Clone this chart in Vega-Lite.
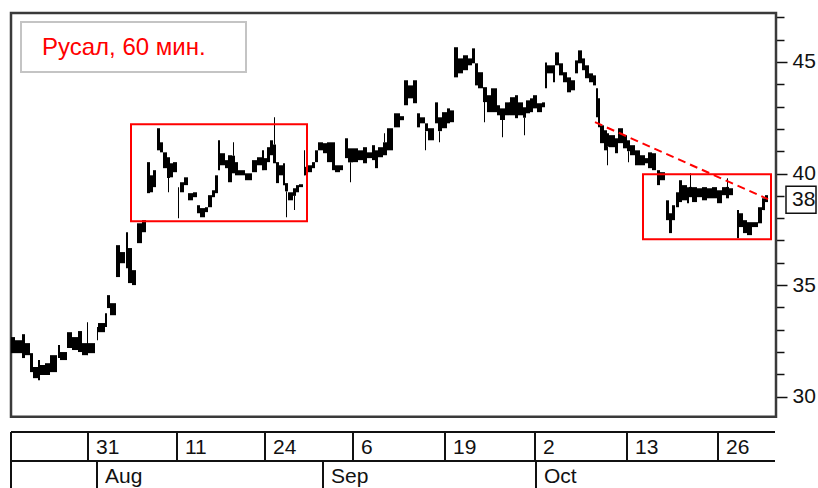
{
  "$schema": "https://vega.github.io/schema/vega-lite/v6.json",
  "width": 765,
  "height": 475,
  "autosize": "none",
  "padding": {"left": 11, "top": 13, "right": 42, "bottom": 0},
  "background": "white",
  "config": {"view": {"stroke": null}, "axis": {"labelOverlap": false}},
  "datasets": {
    "bars": [
      {"s":0,"e":4,"hi":32.67,"lo":31.95},{"s":4,"e":11,"hi":32.53,"lo":31.95},{"s":11,"e":14,"hi":32.80,"lo":31.73},{"s":14,"e":19,"hi":32.40,"lo":31.86},
      {"s":19,"e":22,"hi":31.95,"lo":31.10},{"s":22,"e":27,"hi":31.33,"lo":30.83},{"s":27,"e":29,"hi":31.64,"lo":30.74},{"s":29,"e":34,"hi":31.42,"lo":30.97},
      {"s":34,"e":39,"hi":31.50,"lo":30.97},{"s":39,"e":46,"hi":31.86,"lo":31.10},{"s":47,"e":49,"hi":32.31,"lo":31.73},{"s":49,"e":56,"hi":32.00,"lo":31.64},
      {"s":56,"e":61,"hi":32.89,"lo":32.18},{"s":61,"e":67,"hi":32.67,"lo":32.09},{"s":67,"e":71,"hi":32.94,"lo":32.00},{"s":71,"e":76,"hi":32.40,"lo":31.86},
      {"s":76,"e":77,"hi":33.34,"lo":31.86},{"s":77,"e":84,"hi":32.40,"lo":31.95},{"s":86,"e":87,"hi":33.12,"lo":32.53},{"s":87,"e":94,"hi":33.30,"lo":32.89},
      {"s":94,"e":96,"hi":33.74,"lo":33.12},{"s":96,"e":99,"hi":34.55,"lo":33.97},{"s":99,"e":105,"hi":34.19,"lo":33.65},{"s":105,"e":109,"hi":36.79,"lo":35.36},
      {"s":109,"e":114,"hi":36.48,"lo":35.98},{"s":115,"e":117,"hi":37.37,"lo":35.76},{"s":117,"e":121,"hi":36.66,"lo":35.09},{"s":121,"e":125,"hi":35.67,"lo":35.00},
      {"s":126,"e":131,"hi":37.77,"lo":36.88},{"s":131,"e":135,"hi":37.91,"lo":37.37},{"s":136,"e":139,"hi":40.51,"lo":39.12},{"s":139,"e":142,"hi":39.92,"lo":39.16},
      {"s":142,"e":145,"hi":40.15,"lo":39.39},{"s":146,"e":149,"hi":42.03,"lo":41.04},{"s":149,"e":152,"hi":41.40,"lo":40.95},{"s":152,"e":156,"hi":40.95,"lo":40.24},
      {"s":156,"e":159,"hi":40.73,"lo":39.80},{"s":157,"e":158,"hi":39.80,"lo":39.16},{"s":159,"e":162,"hi":40.46,"lo":39.83},{"s":162,"e":166,"hi":40.51,"lo":40.06},
      {"s":167,"e":168,"hi":39.39,"lo":38.00},{"s":169,"e":173,"hi":39.61,"lo":39.16},{"s":173,"e":177,"hi":39.83,"lo":39.48},{"s":177,"e":182,"hi":39.12,"lo":38.80},
      {"s":182,"e":186,"hi":39.16,"lo":38.94},{"s":186,"e":189,"hi":38.58,"lo":38.22},{"s":189,"e":194,"hi":38.45,"lo":38.04},{"s":194,"e":197,"hi":38.49,"lo":38.27},
      {"s":197,"e":201,"hi":39.03,"lo":38.49},{"s":201,"e":204,"hi":39.25,"lo":38.94},{"s":204,"e":207,"hi":39.92,"lo":39.12},{"s":207,"e":209,"hi":41.49,"lo":40.15},
      {"s":209,"e":214,"hi":40.91,"lo":40.37},{"s":214,"e":217,"hi":40.60,"lo":40.24},{"s":217,"e":221,"hi":40.82,"lo":39.61},{"s":221,"e":224,"hi":40.80,"lo":40.01},
      {"s":222,"e":223,"hi":41.40,"lo":40.80},{"s":224,"e":227,"hi":40.51,"lo":39.92},{"s":227,"e":234,"hi":40.15,"lo":39.92},{"s":234,"e":241,"hi":40.01,"lo":39.70},
      {"s":241,"e":246,"hi":40.60,"lo":40.06},{"s":246,"e":251,"hi":40.73,"lo":40.37},{"s":251,"e":253,"hi":41.04,"lo":40.15},{"s":253,"e":256,"hi":40.69,"lo":40.15},
      {"s":256,"e":259,"hi":41.18,"lo":40.51},{"s":259,"e":262,"hi":41.49,"lo":40.82},{"s":262,"e":265,"hi":41.30,"lo":40.46},{"s":263,"e":264,"hi":42.52,"lo":41.30},
      {"s":265,"e":268,"hi":40.51,"lo":39.57},{"s":268,"e":272,"hi":40.37,"lo":39.92},{"s":272,"e":274,"hi":40.46,"lo":39.48},{"s":274,"e":277,"hi":39.57,"lo":39.20},
      {"s":275,"e":276,"hi":39.20,"lo":38.04},{"s":277,"e":282,"hi":39.16,"lo":38.80},{"s":282,"e":285,"hi":39.34,"lo":39.00},{"s":283,"e":284,"hi":39.00,"lo":38.36},
      {"s":285,"e":288,"hi":39.48,"lo":39.16},{"s":288,"e":292,"hi":39.52,"lo":39.39},{"s":293,"e":294,"hi":41.04,"lo":39.92},{"s":293,"e":296,"hi":40.30,"lo":39.92},
      {"s":296,"e":301,"hi":40.37,"lo":40.06},{"s":301,"e":304,"hi":40.51,"lo":40.24},{"s":304,"e":307,"hi":41.04,"lo":40.51},{"s":307,"e":312,"hi":41.40,"lo":41.04},
      {"s":312,"e":316,"hi":41.36,"lo":40.91},{"s":316,"e":321,"hi":41.40,"lo":40.51},{"s":321,"e":324,"hi":41.40,"lo":40.15},{"s":324,"e":329,"hi":40.37,"lo":40.06},
      {"s":329,"e":332,"hi":40.37,"lo":40.15},{"s":334,"e":337,"hi":41.58,"lo":40.69},{"s":337,"e":342,"hi":41.13,"lo":40.50},{"s":339,"e":340,"hi":40.50,"lo":39.61},
      {"s":342,"e":347,"hi":41.13,"lo":40.51},{"s":347,"e":352,"hi":41.04,"lo":40.60},{"s":352,"e":356,"hi":41.18,"lo":40.46},{"s":356,"e":361,"hi":40.95,"lo":40.69},
      {"s":361,"e":364,"hi":41.27,"lo":40.60},{"s":364,"e":367,"hi":41.04,"lo":40.24},{"s":367,"e":372,"hi":41.18,"lo":40.73},{"s":372,"e":376,"hi":41.40,"lo":40.82},
      {"s":373,"e":374,"hi":41.81,"lo":41.40},{"s":376,"e":382,"hi":42.03,"lo":41.04},{"s":383,"e":389,"hi":42.70,"lo":42.07},{"s":389,"e":393,"hi":42.57,"lo":42.39},
      {"s":393,"e":397,"hi":44.18,"lo":43.06},{"s":397,"e":402,"hi":43.95,"lo":43.37},{"s":402,"e":406,"hi":44.18,"lo":43.15},{"s":406,"e":409,"hi":42.70,"lo":42.07},
      {"s":409,"e":414,"hi":42.52,"lo":42.25},{"s":414,"e":417,"hi":42.25,"lo":41.90},{"s":414,"e":415,"hi":41.90,"lo":41.04},{"s":417,"e":423,"hi":42.03,"lo":41.49},
      {"s":424,"e":427,"hi":43.19,"lo":42.25},{"s":427,"e":431,"hi":42.52,"lo":41.90},{"s":428,"e":429,"hi":41.90,"lo":41.40},{"s":431,"e":436,"hi":42.75,"lo":42.03},
      {"s":436,"e":439,"hi":42.92,"lo":42.25},{"s":439,"e":443,"hi":42.83,"lo":42.30},{"s":443,"e":447,"hi":45.66,"lo":44.31},{"s":447,"e":452,"hi":45.16,"lo":44.49},
      {"s":452,"e":457,"hi":45.30,"lo":44.63},{"s":457,"e":461,"hi":45.16,"lo":44.85},{"s":461,"e":464,"hi":45.61,"lo":44.94},{"s":464,"e":467,"hi":44.94,"lo":43.95},
      {"s":467,"e":472,"hi":44.54,"lo":43.82},{"s":472,"e":476,"hi":43.87,"lo":43.20},{"s":473,"e":474,"hi":43.20,"lo":42.30},{"s":476,"e":480,"hi":43.51,"lo":42.75},
      {"s":480,"e":486,"hi":43.82,"lo":42.75},{"s":486,"e":489,"hi":43.06,"lo":42.61},{"s":489,"e":494,"hi":42.92,"lo":42.40},{"s":491,"e":492,"hi":42.40,"lo":41.63},
      {"s":494,"e":499,"hi":43.19,"lo":42.61},{"s":499,"e":504,"hi":43.42,"lo":42.61},{"s":504,"e":507,"hi":43.51,"lo":42.48},{"s":507,"e":512,"hi":43.19,"lo":42.61},
      {"s":512,"e":515,"hi":42.97,"lo":42.50},{"s":513,"e":514,"hi":42.50,"lo":41.72},{"s":515,"e":519,"hi":43.28,"lo":42.70},{"s":519,"e":522,"hi":43.37,"lo":42.75},
      {"s":522,"e":526,"hi":43.51,"lo":42.92},{"s":526,"e":531,"hi":43.15,"lo":42.75},{"s":531,"e":534,"hi":43.19,"lo":42.97},{"s":534,"e":536,"hi":44.98,"lo":43.82},
      {"s":536,"e":542,"hi":44.85,"lo":44.49},{"s":542,"e":544,"hi":44.85,"lo":44.09},{"s":544,"e":548,"hi":45.43,"lo":44.85},{"s":548,"e":552,"hi":44.94,"lo":44.40},
      {"s":552,"e":556,"hi":44.54,"lo":44.09},{"s":556,"e":560,"hi":44.31,"lo":43.64},{"s":560,"e":564,"hi":44.18,"lo":43.73},{"s":564,"e":567,"hi":45.07,"lo":44.49},
      {"s":567,"e":571,"hi":45.52,"lo":44.94},{"s":571,"e":574,"hi":45.16,"lo":44.63},{"s":574,"e":578,"hi":44.85,"lo":44.27},{"s":578,"e":582,"hi":44.49,"lo":44.09},
      {"s":582,"e":585,"hi":44.40,"lo":43.95},{"s":585,"e":587,"hi":43.82,"lo":42.52},{"s":587,"e":589,"hi":43.37,"lo":42.07},{"s":589,"e":593,"hi":42.16,"lo":41.36},
      {"s":593,"e":596,"hi":41.94,"lo":41.04},{"s":596,"e":598,"hi":41.81,"lo":41.20},{"s":596,"e":597,"hi":41.20,"lo":40.37},{"s":598,"e":604,"hi":41.72,"lo":41.18},
      {"s":604,"e":607,"hi":41.58,"lo":40.91},{"s":607,"e":612,"hi":42.03,"lo":41.36},{"s":612,"e":616,"hi":41.72,"lo":41.13},{"s":616,"e":619,"hi":41.49,"lo":41.00},
      {"s":617,"e":618,"hi":41.00,"lo":40.51},{"s":619,"e":624,"hi":41.27,"lo":40.82},{"s":624,"e":629,"hi":41.04,"lo":40.37},{"s":629,"e":634,"hi":40.82,"lo":40.37},
      {"s":634,"e":637,"hi":40.69,"lo":40.46},{"s":637,"e":641,"hi":40.95,"lo":40.24},{"s":641,"e":645,"hi":40.91,"lo":40.15},{"s":646,"e":649,"hi":40.15,"lo":39.48},
      {"s":649,"e":654,"hi":40.06,"lo":39.70},{"s":655,"e":658,"hi":38.80,"lo":37.91},{"s":658,"e":661,"hi":38.22,"lo":37.33},{"s":661,"e":664,"hi":38.58,"lo":37.91},
      {"s":665,"e":668,"hi":39.16,"lo":38.49},{"s":668,"e":671,"hi":39.70,"lo":38.72},{"s":671,"e":676,"hi":39.48,"lo":38.80},{"s":676,"e":678,"hi":39.39,"lo":38.67},
      {"s":678,"e":681,"hi":39.40,"lo":38.94},{"s":679,"e":680,"hi":40.01,"lo":39.40},{"s":681,"e":686,"hi":39.39,"lo":38.72},{"s":686,"e":691,"hi":39.34,"lo":38.94},
      {"s":691,"e":696,"hi":39.39,"lo":38.80},{"s":696,"e":701,"hi":39.34,"lo":38.89},{"s":701,"e":706,"hi":39.39,"lo":38.89},{"s":706,"e":711,"hi":39.25,"lo":38.67},
      {"s":711,"e":715,"hi":39.39,"lo":39.03},{"s":715,"e":718,"hi":39.40,"lo":38.89},{"s":716,"e":717,"hi":39.79,"lo":39.40},{"s":718,"e":722,"hi":39.34,"lo":39.03},
      {"s":726,"e":728,"hi":38.36,"lo":37.10},{"s":728,"e":732,"hi":38.22,"lo":37.60},{"s":732,"e":736,"hi":37.91,"lo":37.33},{"s":736,"e":741,"hi":37.82,"lo":37.24},
      {"s":741,"e":747,"hi":37.82,"lo":37.60},{"s":747,"e":751,"hi":38.49,"lo":37.77},{"s":751,"e":754,"hi":38.89,"lo":38.36},{"s":754,"e":757,"hi":39.03,"lo":38.72}
    ],
    "days": [
      {"n":77,"label":"31"},{"n":166,"label":"11"},{"n":254,"label":"24"},{"n":342,"label":"6"},
      {"n":434,"label":"19"},{"n":524,"label":"2"},{"n":616,"label":"13"},{"n":707,"label":"26"}
    ],
    "months": [
      {"n":86,"label":"Aug"},{"n":312,"label":"Sep"},{"n":525,"label":"Oct"}
    ]
  },
  "encoding": {
    "x": {"type": "quantitative", "scale": {"domain": [0, 765], "nice": false, "zero": false}, "axis": null},
    "y": {"type": "quantitative", "scale": {"domain": [25.907, 47.194], "nice": false, "zero": false}, "axis": {
      "orient": "right", "values": [30,31,32,33,34,35,36,37,38,39,40,41,42,43,44,45,46,47],
      "labelExpr": "datum.value % 5 === 0 ? datum.label : ''",
      "labelOverlap": false, "labelBound": false, "domain": false, "grid": false, "title": null,
      "tickColor": "#111", "tickWidth": 1.5,
      "tickSize": {"condition": {"test": "datum.value % 5 === 0", "value": 11}, "value": 8},
      "labelFont": "Liberation Sans", "labelFontSize": 21, "labelColor": "#111", "labelPadding": 5
    }}
  },
  "layer": [
    {
      "data": {"values": [{"a": 0}]},
      "mark": {"type": "rect", "fill": "white", "stroke": "#3a3a3a", "strokeWidth": 2.5},
      "encoding": {
        "x": {"datum": 0, "type": "quantitative"},
        "x2": {"datum": 765},
        "y": {"datum": 29.104, "type": "quantitative"},
        "y2": {"datum": 47.194}
      }
    },
    {
      "data": {"values": [{"a": 0}]},
      "mark": {"type": "rect", "fill": "white", "stroke": "#c4c4c4", "strokeWidth": 2},
      "encoding": {
        "x": {"datum": 10, "type": "quantitative"}, "x2": {"datum": 235},
        "y": {"datum": 46.79, "type": "quantitative"}, "y2": {"datum": 44.55}
      }
    },
    {
      "data": {"values": [{"title": "Русал, 60 мин."}]},
      "mark": {"type": "text", "align": "left", "baseline": "alphabetic", "font": "Liberation Sans", "fontSize": 24, "color": "#ff0000"},
      "encoding": {
        "x": {"datum": 31, "type": "quantitative"},
        "y": {"datum": 45.30, "type": "quantitative"},
        "text": {"field": "title"}
      }
    },
    {
      "data": {"name": "bars"},
      "mark": {"type": "rect", "color": "black"},
      "encoding": {
        "x": {"field": "s", "type": "quantitative"},
        "x2": {"field": "e"},
        "y": {"field": "hi", "type": "quantitative"},
        "y2": {"field": "lo"}
      }
    },
    {
      "data": {"values": [{"n": 120, "n2": 296, "top": 42.21, "bottom": 37.86}, {"n": 632, "n2": 760, "top": 39.97, "bottom": 37.06}]},
      "mark": {"type": "rect", "fill": null, "fillOpacity": 0, "stroke": "#ff0000", "strokeWidth": 2},
      "encoding": {
        "x": {"field": "n", "type": "quantitative"},
        "x2": {"field": "n2"},
        "y": {"field": "top", "type": "quantitative"},
        "y2": {"field": "bottom"}
      }
    },
    {
      "data": {"values": [{"n": 584, "p": 42.30}, {"n": 757, "p": 38.85}]},
      "mark": {"type": "line", "color": "#ff0000", "strokeWidth": 2, "strokeDash": [8, 5]},
      "encoding": {
        "x": {"field": "n", "type": "quantitative"},
        "y": {"field": "p", "type": "quantitative"}
      }
    },
    {
      "data": {"values": [{"a": 0}]},
      "mark": {"type": "rect", "fill": "white", "stroke": "#111", "strokeWidth": 1.5, "clip": false},
      "encoding": {
        "x": {"datum": 775, "type": "quantitative"}, "x2": {"datum": 805},
        "y": {"datum": 39.43, "type": "quantitative"}, "y2": {"datum": 38.22}
      }
    },
    {
      "data": {"values": [{"last": "38"}]},
      "mark": {"type": "text", "align": "left", "baseline": "middle", "font": "Liberation Sans", "fontSize": 21, "color": "#111", "clip": false},
      "encoding": {
        "x": {"datum": 781, "type": "quantitative"},
        "y": {"datum": 38.83, "type": "quantitative"},
        "text": {"field": "last"}
      }
    },
    {
      "data": {"values": [{"r": 28.415}, {"r": 27.116}]},
      "mark": {"type": "rule", "color": "#111", "strokeWidth": 2},
      "encoding": {
        "x": {"datum": 0, "type": "quantitative"}, "x2": {"datum": 764},
        "y": {"field": "r", "type": "quantitative"}
      }
    },
    {
      "data": {"values": [{"a": 0}]},
      "mark": {"type": "rule", "color": "#111", "strokeWidth": 2},
      "encoding": {
        "x": {"datum": 0, "type": "quantitative"},
        "y": {"datum": 28.415, "type": "quantitative"}, "y2": {"datum": 25.907}
      }
    },
    {
      "data": {"name": "days"},
      "layer": [
        {
          "mark": {"type": "rule", "color": "#111", "strokeWidth": 2},
          "encoding": {
            "x": {"field": "n", "type": "quantitative"},
            "y": {"datum": 28.415, "type": "quantitative"}, "y2": {"datum": 27.116}
          }
        },
        {
          "mark": {"type": "text", "align": "left", "baseline": "alphabetic", "dx": 8, "font": "Liberation Sans", "fontSize": 21, "color": "#111"},
          "encoding": {
            "x": {"field": "n", "type": "quantitative"},
            "y": {"datum": 27.43, "type": "quantitative"},
            "text": {"field": "label"}
          }
        }
      ]
    },
    {
      "data": {"name": "months"},
      "layer": [
        {
          "mark": {"type": "rule", "color": "#111", "strokeWidth": 2},
          "encoding": {
            "x": {"field": "n", "type": "quantitative"},
            "y": {"datum": 27.116, "type": "quantitative"}, "y2": {"datum": 25.907}
          }
        },
        {
          "mark": {"type": "text", "align": "left", "baseline": "alphabetic", "dx": 8, "font": "Liberation Sans", "fontSize": 21, "color": "#111"},
          "encoding": {
            "x": {"field": "n", "type": "quantitative"},
            "y": {"datum": 26.13, "type": "quantitative"},
            "text": {"field": "label"}
          }
        }
      ]
    }
  ]
}
